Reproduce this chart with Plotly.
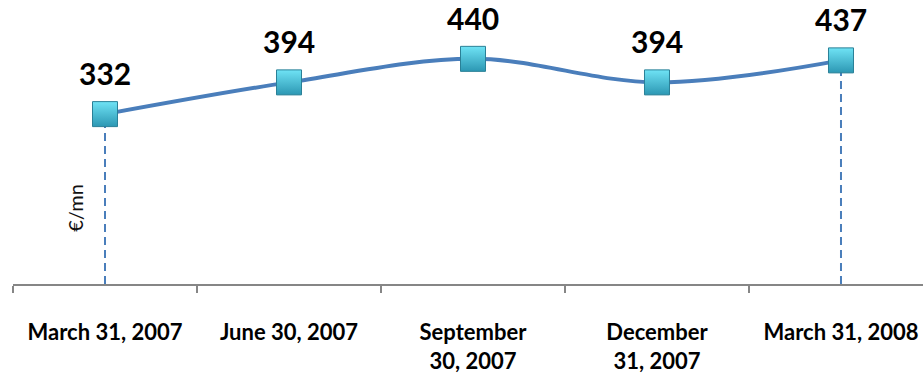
import plotly.graph_objects as go

categories = ["March 31, 2007", "June 30, 2007", "September 30, 2007", "December 31, 2007", "March 31, 2008"]
tick_labels = ["March 31, 2007", "June 30, 2007", "September<br>30, 2007", "December<br>31, 2007", "March 31, 2008"]
values = [332, 394, 440, 394, 437]
drop_idx = [0, 4]
unit_label = "€/mn"

LINE = "#4a7ebb"
FONT = "Lato"

fig = go.Figure()

# dashed drop lines
for i in drop_idx:
    fig.add_trace(go.Scatter(
        x=[categories[i], categories[i]], y=[0, values[i]],
        mode="lines", line=dict(color=LINE, width=2, dash="8px,5px"),
        hoverinfo="skip", showlegend=False))

fig.add_trace(go.Scatter(
    x=categories, y=values, mode="lines",
    line=dict(color=LINE, width=4, shape="spline", smoothing=1),
    showlegend=False))

fig.add_trace(go.Scatter(
    x=categories, y=values, mode="markers",
    marker=dict(symbol="square", size=25, color="#6fe3f5",
                gradient=dict(type="vertical", color="#2c97b3"),
                line=dict(color="#2a8097", width=1)),
    showlegend=False))

for c, v in zip(categories, values):
    fig.add_annotation(x=c, y=v, text=f"<b>{v}</b>", showarrow=False, yshift=41,
                       font=dict(family=FONT, size=30, color="#000000"))

fig.add_annotation(x=-0.16, y=148, xref="x", yref="y", text=unit_label, textangle=-90,
                   showarrow=False, font=dict(family=FONT, size=20, color="#111111"))

bold_ticks = [f"<b>{t}</b>".replace("<br>", "</b><br><b>") for t in tick_labels]

fig.update_layout(
    width=923, height=377,
    margin=dict(l=13, r=0, t=0, b=93),
    paper_bgcolor="white", plot_bgcolor="white",
    xaxis=dict(type="category", categoryorder="array", categoryarray=categories,
               range=[-0.5, 4.4457], tickmode="array", tickvals=categories, ticktext=bold_ticks,
               tickson="boundaries", ticks="outside", ticklen=7, tickwidth=2, tickcolor="#868686",
               showline=True, linecolor="#868686", linewidth=2, showgrid=False, zeroline=False,
               ticklabelstandoff=28,
               tickfont=dict(family=FONT, size=22, color="#000000")),
    yaxis=dict(range=[0, 555], visible=False),
)

fig.write_html("out.html")
